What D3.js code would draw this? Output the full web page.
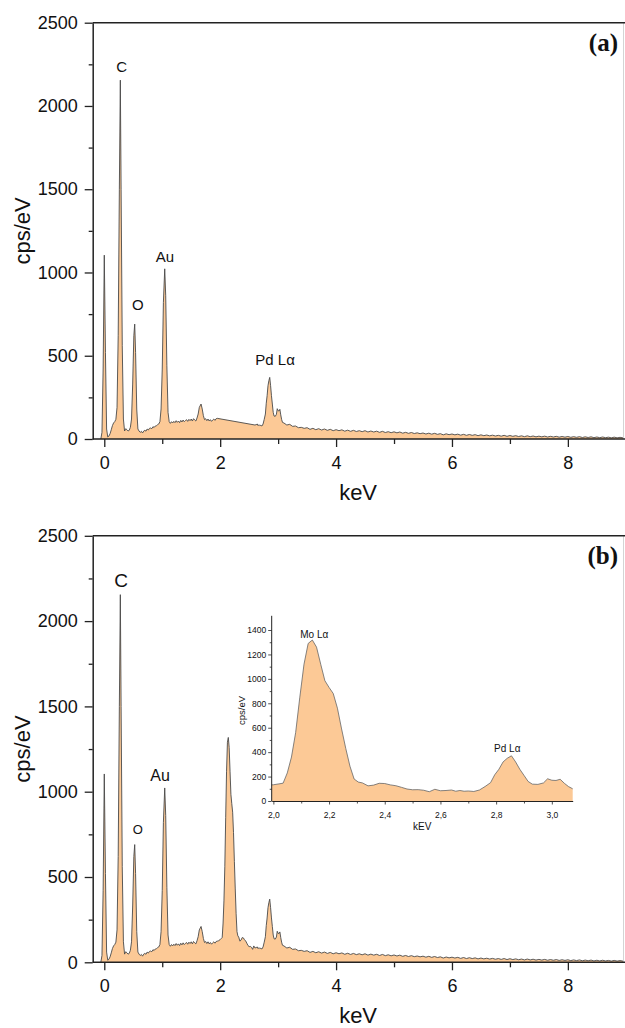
<!DOCTYPE html>
<html>
<head>
<meta charset="utf-8">
<script src="https://cdn.jsdelivr.net/npm/d3@7"></script>
<style>
  body { margin: 0; background: #fff; }
  text { font-family: "Liberation Sans", Arial, sans-serif; }
</style>
</head>
<body>
<svg id="chart" width="625" height="1028"></svg>
<script>
// EDS spectrum: low-energy part (C, O, Au, Si region)
const lowEnergy = [-0.06,-0.04,-0.02,0.00,0.02,0.04,0.06,0.08,0.10,0.12,0.14,0.16,0.18,0.20,0.22,0.24,0.26,0.277,0.29,0.31,0.33,0.35,0.37,0.39,0.41,0.43,0.45,0.47,0.49,0.51,0.525,0.54,0.56,0.58,0.60,0.62,0.64,0.66,0.68,0.70,0.72,0.74,0.76,0.78,0.80,0.82,0.84,0.86,0.88,0.90,0.92,0.94,0.96,0.98,1.00,1.02,1.043,1.06,1.08,1.10,1.12,1.14,1.16,1.18,1.20,1.22,1.24,1.26,1.28,1.30,1.32,1.34,1.36,1.38,1.40,1.42,1.44,1.46,1.48,1.50,1.52,1.54,1.56,1.58,1.60,1.62,1.64,1.67,1.69,1.71,1.73,1.75,1.77,1.79,1.81,1.83,1.85,1.87,1.89,1.91,1.93,1.95,1.97];
const lowCounts = [0,40,420,1104,520,60,12,18,32,55,80,96,104,118,190,620,1500,2155,1500,560,120,48,62,56,48,52,70,120,330,620,690,520,180,60,48,40,46,36,48,52,47,60,54,64,66,62,74,69,78,80,86,90,104,180,420,820,1022,860,440,160,104,94,104,96,106,98,110,100,108,98,112,102,114,104,111,116,106,118,110,120,108,122,114,108,126,150,190,210,180,140,116,122,110,120,108,116,106,114,120,112,122,124,126];

// Mo Lα / Pd Lα window
const moEnergy = [2.00,2.02,2.035,2.05,2.065,2.08,2.095,2.11,2.125,2.14,2.155,2.17,2.185,2.20,2.215,2.23,2.245,2.26,2.275,2.29,2.305,2.32,2.34,2.36,2.38,2.40,2.42,2.44,2.46,2.48,2.50,2.52,2.54,2.56,2.58,2.60,2.62,2.64,2.655,2.67,2.685,2.70,2.72,2.74,2.76,2.78,2.795,2.81,2.825,2.84,2.855,2.87,2.885,2.90,2.915,2.93,2.95,2.97,2.985,3.00,3.015,3.03,3.045,3.06,3.075];
const moCounts = [133,140,146,230,360,560,850,1120,1290,1318,1260,1120,985,930,880,760,590,430,285,180,155,148,124,130,145,143,132,125,112,98,92,93,88,76,96,84,86,90,80,86,80,82,78,90,118,150,215,260,320,350,370,320,260,210,160,138,136,148,182,170,168,178,145,118,100];

// Bremsstrahlung tail
const tailEnergy = [3.10,3.15,3.20,3.25,3.30,3.35,3.40,3.45,3.50,3.55,3.60,3.65,3.70,3.75,3.80,3.85,3.90,3.95,4.00,4.05,4.10,4.15,4.20,4.25,4.30,4.35,4.40,4.45,4.50,4.55,4.60,4.65,4.70,4.75,4.80,4.85,4.90,4.95,5.00,5.05,5.10,5.15,5.20,5.25,5.30,5.35,5.40,5.45,5.50,5.55,5.60,5.65,5.70,5.75,5.80,5.85,5.90,5.95,6.00,6.05,6.10,6.15,6.20,6.25,6.30,6.35,6.40,6.45,6.50,6.55,6.60,6.65,6.70,6.75,6.80,6.85,6.90,6.95,7.00,7.05,7.10,7.15,7.20,7.25,7.30,7.35,7.40,7.45,7.50,7.55,7.60,7.65,7.70,7.75,7.80,7.85,7.90,7.95,8.00,8.05,8.10,8.15,8.20,8.25,8.30,8.35,8.40,8.45,8.50,8.55,8.60,8.65,8.70,8.75,8.80,8.85,8.90,8.95,9.00,9.05];
const tailCounts = [96,84,88,76,78,68,70,64,68,58,64,56,62,54,60,52,58,50,56,50,55,47,53,46,52,45,50,44,50,42,48,42,47,40,46,39,44,38,43,37,42,35,40,34,39,33,37,32,36,30,35,29,34,28,32,25,31,26,30,25,29,23,28,22,27,22,26,20,25,20,24,19,23,18,22,17,22,16,21,16,20,15,19,14,19,14,18,13,17,13,17,12,16,12,16,11,15,11,15,10,14,10,14,9,13,9,13,8,12,8,12,8,11,7,11,7,10,7,10,7];

// Range left out of spectrum (a)
const moWindow = [1.95, 2.6];

// Axis ticks
const yTicks = [0, 500, 1000, 1500, 2000, 2500];
const yMinorTicks = [250, 750, 1250, 1750, 2250];
const xTicks = [0, 2, 4, 6, 8];
const xMinorTicks = [1, 3, 5, 7];
const insetYTicks = [0, 200, 400, 600, 800, 1000, 1200, 1400];
const insetYMinorTicks = [100, 300, 500, 700, 900, 1100, 1300];
const insetXTicks = [2.0, 2.2, 2.4, 2.6, 2.8, 3.0];
const insetXMinorTicks = [2.1, 2.3, 2.5, 2.7, 2.9];

// Peak labels (energy, count level of the label centre)
const peakLabelsA = [
  { text: "C", keV: 0.30, cps: 2235, size: 15 },
  { text: "O", keV: 0.577, cps: 810, size: 15 },
  { text: "Au", keV: 1.048, cps: 1094, size: 15 },
  { text: "Pd L\u03b1", keV: 2.947, cps: 478, size: 15 }
];
const peakLabelsB = [
  { text: "C", keV: 0.289, cps: 2241, size: 19 },
  { text: "O", keV: 0.577, cps: 781, size: 13 },
  { text: "Au", keV: 0.962, cps: 1094, size: 16 }
];
const insetLabels = [
  { text: "Mo L\u03b1", keV: 2.147, cps: 1368 },
  { text: "Pd L\u03b1", keV: 2.84, cps: 432 }
];

const fillColor = "#fcc996";
const lineColor = "#4a4a4a";
const axisColor = "#222";
const intFmt = d3.format("d");

const spectrum = []
  .concat(lowEnergy.map((e, i) => ({ e, c: lowCounts[i] })))
  .concat(moEnergy.map((e, i) => ({ e, c: moCounts[i] })))
  .concat(tailEnergy.map((e, i) => ({ e, c: tailCounts[i] })));
const spectrumA = spectrum.filter(d => d.e <= moWindow[0] || d.e >= moWindow[1]);

const svg = d3.select("#chart");
let clipId = 0;

function styleAxis(g, fontSize) {
  g.selectAll(".domain").attr("stroke", axisColor).attr("stroke-width", 1.5);
  g.selectAll(".tick line").attr("stroke", axisColor).attr("stroke-width", 1.3);
  g.selectAll(".tick text").attr("fill", "#111").style("font-size", fontSize + "px")
    .style("font-family", '"Liberation Sans", Arial, sans-serif');
}

function drawPanel(data, top, bottom, tag, labels) {
  const left = 92.7, right = 623.5;
  const x = d3.scaleLinear().domain([-0.2, 8.96]).range([left, right]);
  const y = d3.scaleLinear().domain([0, 2500]).range([bottom, top]);
  const g = svg.append("g");

  const id = "clip" + (clipId++);
  g.append("clipPath").attr("id", id).append("rect")
    .attr("x", left).attr("y", top - 2).attr("width", right - left).attr("height", bottom - top + 2);

  const area = d3.area().x(d => x(d.e)).y0(y(0)).y1(d => y(d.c));
  const line = d3.line().x(d => x(d.e)).y(d => y(d.c));
  g.append("path").datum(data).attr("d", area).attr("fill", fillColor).attr("clip-path", `url(#${id})`);
  g.append("path").datum(data).attr("d", line).attr("fill", "none")
    .attr("stroke", lineColor).attr("stroke-width", 0.9).attr("stroke-linejoin", "round")
    .attr("clip-path", `url(#${id})`);

  // frame: faint right edge and top line
  g.append("line").attr("x1", right).attr("x2", right).attr("y1", top).attr("y2", bottom)
    .attr("stroke", "#d4d4d4").attr("stroke-width", 1);
  g.append("line").attr("x1", left).attr("x2", 625).attr("y1", top).attr("y2", top)
    .attr("stroke", axisColor).attr("stroke-width", 1.5);

  // axes
  const ya = g.append("g").attr("transform", `translate(${left},0)`)
    .call(d3.axisLeft(y).tickValues(yTicks).tickFormat(intFmt).tickSize(8).tickSizeOuter(0).tickPadding(7));
  styleAxis(ya, 18);
  const yam = g.append("g").attr("transform", `translate(${left},0)`)
    .call(d3.axisLeft(y).tickValues(yMinorTicks).tickSize(4).tickFormat(""));
  yam.select(".domain").remove();
  styleAxis(yam, 18);

  const xa = g.append("g").attr("transform", `translate(0,${bottom})`)
    .call(d3.axisBottom(x).tickValues(xTicks).tickFormat(intFmt).tickSize(8).tickSizeOuter(0).tickPadding(9));
  styleAxis(xa, 18);
  xa.select(".domain").attr("d", `M${left},0H625`);
  const xam = g.append("g").attr("transform", `translate(0,${bottom})`)
    .call(d3.axisBottom(x).tickValues(xMinorTicks).tickSize(5).tickFormat(""));
  xam.select(".domain").remove();
  styleAxis(xam, 18);

  // titles
  g.append("text").attr("x", (left + right) / 2).attr("y", bottom + 61)
    .attr("text-anchor", "middle").style("font-size", "22px").attr("fill", "#111").text("keV");
  g.append("text").attr("transform", `translate(30,${(top + bottom) / 2}) rotate(-90)`)
    .attr("text-anchor", "middle").style("font-size", "22px").attr("fill", "#111").text("cps/eV");
  g.append("text").attr("x", 618).attr("y", top + 28).attr("text-anchor", "end")
    .style("font-family", '"Liberation Serif", "Times New Roman", serif')
    .style("font-weight", "bold").style("font-size", "25px").attr("fill", "#111").text(tag);

  labels.forEach(l => {
    g.append("text").attr("x", x(l.keV)).attr("y", y(l.cps)).attr("dy", "0.36em")
      .attr("text-anchor", "middle").style("font-size", l.size + "px").attr("fill", "#111").text(l.text);
  });
  return { x, y, g };
}

drawPanel(spectrumA, 22.7, 439, "(a)", peakLabelsA);
drawPanel(spectrum, 535.8, 962.3, "(b)", peakLabelsB);

// Inset: Mo Lα / Pd Lα region of spectrum (b)
(function drawInset() {
  const left = 271.7, right = 572.7, top = 617.8, bottom = 801;
  const ix = d3.scaleLinear().domain([1.994, 3.075]).range([left, right]);
  const iy = d3.scaleLinear().domain([0, 1500]).range([bottom, top]);
  const g = svg.append("g");
  const id = "clipInset";
  g.append("clipPath").attr("id", id).append("rect")
    .attr("x", left).attr("y", top - 10).attr("width", right - left).attr("height", bottom - top + 10);
  const area = d3.area().x(d => ix(d.e)).y0(iy(0)).y1(d => iy(d.c));
  const line = d3.line().x(d => ix(d.e)).y(d => iy(d.c));
  const sub = spectrum.filter(d => d.e >= 1.95 && d.e <= 3.12);
  g.append("path").datum(sub).attr("d", area).attr("fill", fillColor).attr("clip-path", `url(#${id})`);
  g.append("path").datum(sub).attr("d", line).attr("fill", "none")
    .attr("stroke", "#666").attr("stroke-width", 0.8).attr("clip-path", `url(#${id})`);

  const fmt = d => d.toFixed(1).replace(".", ",");
  const ya = g.append("g").attr("transform", `translate(${left},0)`)
    .call(d3.axisLeft(iy).tickValues(insetYTicks).tickFormat(intFmt).tickSize(3.5).tickSizeOuter(0).tickPadding(2));
  styleAxis(ya, 8.5);
  ya.select(".domain").attr("stroke-width", 1).attr("d", `M0,${bottom}V${top - 2}`);
  ya.selectAll(".tick line").attr("stroke-width", 0.8);
  const yam = g.append("g").attr("transform", `translate(${left},0)`)
    .call(d3.axisLeft(iy).tickValues(insetYMinorTicks).tickSize(2).tickFormat(""));
  yam.select(".domain").remove();
  yam.selectAll(".tick line").attr("stroke", axisColor).attr("stroke-width", 0.8);

  const xa = g.append("g").attr("transform", `translate(0,${bottom})`)
    .call(d3.axisBottom(ix).tickValues(insetXTicks).tickSize(3.5).tickSizeOuter(0).tickPadding(7).tickFormat(fmt));
  styleAxis(xa, 8.5);
  xa.select(".domain").attr("stroke-width", 1);
  xa.selectAll(".tick line").attr("stroke-width", 0.8);
  const xam = g.append("g").attr("transform", `translate(0,${bottom})`)
    .call(d3.axisBottom(ix).tickValues(insetXMinorTicks).tickSize(2.5).tickFormat(""));
  xam.select(".domain").remove();
  xam.selectAll(".tick line").attr("stroke", axisColor).attr("stroke-width", 0.8);

  g.append("text").attr("x", (left + right) / 2).attr("y", bottom + 29)
    .attr("text-anchor", "middle").style("font-size", "10px").attr("fill", "#111").text("kEV");
  g.append("text").attr("transform", `translate(245,${(top + bottom) / 2 + 1}) rotate(-90)`)
    .attr("text-anchor", "middle").style("font-size", "9.5px").attr("fill", "#111").text("cps/eV");
  insetLabels.forEach(l => {
    g.append("text").attr("x", ix(l.keV)).attr("y", iy(l.cps)).attr("dy", "0.36em")
      .attr("text-anchor", "middle").style("font-size", "10px").attr("fill", "#111").text(l.text);
  });
})();
</script>
</body>
</html>
